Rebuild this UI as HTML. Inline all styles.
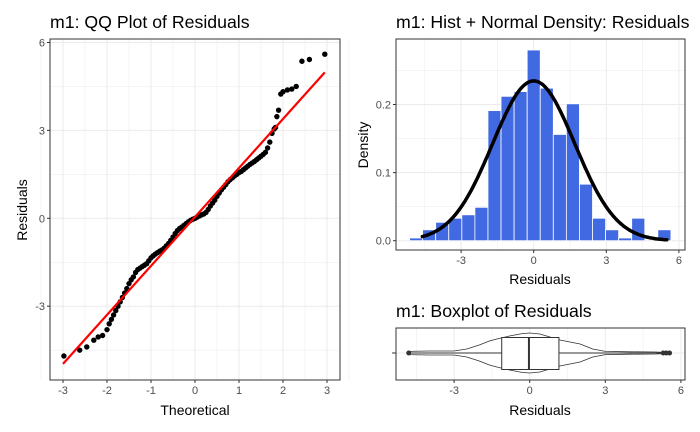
<!DOCTYPE html>
<html><head><meta charset="utf-8">
<style>
html,body{margin:0;padding:0;background:#fff;}
svg{display:block;font-family:"Liberation Sans",Arial,sans-serif;}
.tick{font-size:11px;fill:#4d4d4d;}
.atitle{font-size:14px;fill:#000;}
.ptitle{font-size:17.7px;fill:#000;}
.grid{stroke:#ebebeb;stroke-width:1;}
.gridm{stroke:#ebebeb;stroke-width:0.5;}
</style></head>
<body>
<svg id="chart" width="700" height="432" viewBox="0 0 700 432">
<g id="qq"></g>
<g id="hist"></g>
<g id="box"></g>
</svg>
<script>
// ---------- QQ data ----------
const qqTheoretical = [-2.98,-2.62,-2.46,-2.3,-2.2,-2.1,-2.0,-1.95,-1.9,-1.85,-1.8,-1.75,-1.7,-1.65,-1.6,-1.55,-1.5,-1.45,-1.4,-1.35,-1.3,-1.25,-1.2,-1.15,-1.1,-1.05,-1.0,-0.95,-0.9,-0.85,-0.8,-0.75,-0.7,-0.65,-0.6,-0.55,-0.5,-0.45,-0.4,-0.35,-0.3,-0.25,-0.2,-0.15,-0.1,-0.05,0,0.05,0.1,0.15,0.2,0.25,0.3,0.35,0.4,0.45,0.5,0.55,0.6,0.65,0.7,0.75,0.8,0.85,0.9,0.95,1.0,1.05,1.1,1.15,1.2,1.25,1.3,1.35,1.4,1.45,1.5,1.55,1.6,1.65,1.7,1.75,1.8,1.83,1.86,1.9,1.95,2.0,2.1,2.2,2.3,2.43,2.6,2.95];
const qqSample = [-4.7,-4.5,-4.39,-4.16,-4.05,-4.0,-3.8,-3.6,-3.45,-3.3,-3.15,-3.0,-2.85,-2.7,-2.55,-2.4,-2.23,-2.1,-2.0,-1.85,-1.75,-1.7,-1.65,-1.6,-1.55,-1.45,-1.35,-1.28,-1.22,-1.17,-1.12,-1.08,-1.02,-0.94,-0.86,-0.75,-0.64,-0.52,-0.42,-0.35,-0.3,-0.24,-0.18,-0.12,-0.07,-0.03,0.0,0.04,0.08,0.12,0.15,0.2,0.3,0.42,0.52,0.62,0.75,0.86,0.97,1.06,1.15,1.25,1.32,1.38,1.45,1.5,1.56,1.6,1.66,1.72,1.78,1.84,1.89,1.94,2.0,2.06,2.12,2.18,2.25,2.4,2.6,2.9,3.05,3.1,3.47,3.69,4.24,4.32,4.38,4.41,4.5,5.36,5.42,5.6];
const qqLine = [[-3,-4.97],[2.95,4.98]];
const qqXTicks = [-3,-2,-1,0,1,2,3];
const qqYTicks = [-3,0,3,6];
// ---------- Histogram data ----------
const histCenters = [-4.86,-4.32,-3.78,-3.24,-2.7,-2.16,-1.62,-1.08,-0.54,0,0.54,1.08,1.62,2.16,2.7,3.24,3.78,4.32,4.86,5.4];
const histDensity = [0.004,0.016,0.027,0.033,0.038,0.049,0.191,0.212,0.219,0.280,0.224,0.156,0.201,0.083,0.033,0.016,0.004,0.033,0,0.016];
const histBinWidth = 0.54;
const normMean = 0.0, normSd = 1.7, curveMin = -4.6, curveMax = 5.5;
const histXTicks = [-3,0,3,6];
const histYTicks = [0,0.1,0.2];
// ---------- Boxplot data ----------
const boxStats = {q1:-1.11, median:-0.03, q3:1.16, lowWhisker:-4.7, highWhisker:5.2};
const boxOutliers = [-4.8,5.3,5.42,5.55];
const violinX = [-4.8,-4,-3,-2.5,-2,-1.6,-1.3,-0.8,-0.3,0,0.4,0.8,1.2,1.6,2,2.5,3,4,5,5.55];
const violinHalf = [0.08,0.1,0.1,0.2,0.4,0.6,0.7,0.85,0.97,1.0,0.95,0.8,0.65,0.55,0.45,0.2,0.08,0.06,0.05,0.02];
const boxXTicks = [-3,0,3,6];

const NS="http://www.w3.org/2000/svg";
function mk(parent,tag,attrs,text){const e=document.createElementNS(NS,tag);for(const k in attrs)e.setAttribute(k,attrs[k]);if(text!==undefined)e.textContent=text;parent.appendChild(e);return e;}

// ===== QQ =====
(function(){
const g=document.getElementById('qq');
const L=50,R=340,T=39,B=380;
const sx=v=>195+v*44, sy=v=>218.3-v*29.3;
for(let v=-3.5;v<=3.5;v+=1){const e=mk(g,'line',{x1:sx(v),x2:sx(v),y1:T,y2:B,class:'gridm'});}
for(let v=-4.5;v<=6;v+=3){const e=mk(g,'line',{x1:L,x2:R,y1:sy(v),y2:sy(v),class:'gridm'});}
qqXTicks.forEach(v=>{const e=mk(g,'line',{x1:sx(v),x2:sx(v),y1:T,y2:B,class:'grid'});
 const t=mk(g,'text',{x:sx(v),y:B+14,'text-anchor':'middle',class:'tick'},String(v));
 mk(g,'line',{x1:sx(v),x2:sx(v),y1:B,y2:B+3,stroke:'#333'});});
qqYTicks.forEach(v=>{const e=mk(g,'line',{x1:L,x2:R,y1:sy(v),y2:sy(v),class:'grid'});
 const t=mk(g,'text',{x:L-5,y:sy(v)+4,'text-anchor':'end',class:'tick'},String(v));
 mk(g,'line',{x1:L-3,x2:L,y1:sy(v),y2:sy(v),stroke:'#333'});});
qqTheoretical.forEach((t,i)=>{const c=mk(g,'circle',{cx:sx(t),cy:sy(qqSample[i]),r:2.7,fill:'#000'});});
const ln=mk(g,'line',{x1:sx(qqLine[0][0]),y1:sy(qqLine[0][1]),x2:sx(qqLine[1][0]),y2:sy(qqLine[1][1]),stroke:'#ff0000','stroke-width':2.2});

const fr=mk(g,'rect',{x:L,y:T,width:R-L,height:B-T,fill:'none',stroke:'#333','stroke-width':1});
let t=mk(g,'text',{x:50,y:28,class:'ptitle'},'m1: QQ Plot of Residuals');
t=mk(g,'text',{x:195,y:415,'text-anchor':'middle',class:'atitle'},'Theoretical');
t=mk(g,'text',{x:27,y:210,'text-anchor':'middle',class:'atitle',transform:'rotate(-90 27 210)'},'Residuals');
})();

// ===== Histogram =====
(function(){
const g=document.getElementById('hist');
const L=396,R=685,T=39,B=250;
const sx=v=>533.7+v*24.2, sy=v=>240.7-v*681;
[-4.5,-1.5,1.5,4.5].forEach(v=>{const e=mk(g,'line',{x1:sx(v),x2:sx(v),y1:T,y2:B,class:'gridm'});});
[0.05,0.15,0.25].forEach(v=>{const e=mk(g,'line',{x1:L,x2:R,y1:sy(v),y2:sy(v),class:'gridm'});});
histXTicks.forEach(v=>{const e=mk(g,'line',{x1:sx(v),x2:sx(v),y1:T,y2:B,class:'grid'});
 const t=mk(g,'text',{x:sx(v),y:B+14,'text-anchor':'middle',class:'tick'},String(v));
 mk(g,'line',{x1:sx(v),x2:sx(v),y1:B,y2:B+3,stroke:'#333'});});
histYTicks.forEach(v=>{const e=mk(g,'line',{x1:L,x2:R,y1:sy(v),y2:sy(v),class:'grid'});
 const t=mk(g,'text',{x:L-5,y:sy(v)+4,'text-anchor':'end',class:'tick'},v.toFixed(1));
 mk(g,'line',{x1:L-3,x2:L,y1:sy(v),y2:sy(v),stroke:'#333'});});
histCenters.forEach((c,i)=>{const d=histDensity[i];if(d<=0)return;
 const r=mk(g,'rect',{x:sx(c-histBinWidth/2),y:sy(d),width:histBinWidth*24.2,height:sy(0)-sy(d),fill:'#4169e1',stroke:'#fff','stroke-width':0.8});
 });
let pts=[];for(let i=0;i<=120;i++){const x=curveMin+(curveMax-curveMin)*i/120;const y=Math.exp(-0.5*((x-normMean)/normSd)**2)/(normSd*Math.sqrt(2*Math.PI));pts.push(sx(x).toFixed(1)+','+sy(y).toFixed(1));}
const p=mk(g,'polyline',{points:pts.join(' '),fill:'none',stroke:'#000','stroke-width':3.5,'stroke-linejoin':'round','stroke-linecap':'round'});

const fr=mk(g,'rect',{x:L,y:T,width:R-L,height:B-T,fill:'none',stroke:'#333'});
let t=mk(g,'text',{x:396,y:28,class:'ptitle'},'m1: Hist + Normal Density: Residuals');
t=mk(g,'text',{x:540,y:284,'text-anchor':'middle',class:'atitle'},'Residuals');
t=mk(g,'text',{x:368,y:145,'text-anchor':'middle',class:'atitle',transform:'rotate(-90 368 145)'},'Density');
})();

// ===== Boxplot =====
(function(){
const g=document.getElementById('box');
const L=396,R=685,T=328,B=380,cy=353;
const sx=v=>529.7+v*25.2;
[-4.5,-1.5,1.5,4.5].forEach(v=>{const e=mk(g,'line',{x1:sx(v),x2:sx(v),y1:T,y2:B,class:'gridm'});});
boxXTicks.forEach(v=>{const e=mk(g,'line',{x1:sx(v),x2:sx(v),y1:T,y2:B,class:'grid'});
 const t=mk(g,'text',{x:sx(v),y:B+14,'text-anchor':'middle',class:'tick'},String(v));
 mk(g,'line',{x1:sx(v),x2:sx(v),y1:B,y2:B+3,stroke:'#333'});});
let gl=mk(g,'line',{x1:L,x2:R,y1:cy,y2:cy,class:'grid'});
mk(g,'line',{x1:L-4,x2:L,y1:cy,y2:cy,stroke:'#333'});
const hw=20;
let top=violinX.map((x,i)=>sx(x).toFixed(1)+','+(cy-violinHalf[i]*hw).toFixed(1));
let bot=violinX.map((x,i)=>sx(x).toFixed(1)+','+(cy+violinHalf[i]*hw).toFixed(1)).reverse();
const vp=mk(g,'polygon',{points:top.concat(bot).join(' '),fill:'#fff',stroke:'#333','stroke-width':0.8});

const w1=mk(g,'line',{x1:sx(boxStats.lowWhisker),x2:sx(boxStats.q1),y1:cy,y2:cy,stroke:'#333'});
const w2=mk(g,'line',{x1:sx(boxStats.q3),x2:sx(boxStats.highWhisker),y1:cy,y2:cy,stroke:'#333'});
const bx=mk(g,'rect',{x:sx(boxStats.q1),y:cy-15.5,width:sx(boxStats.q3)-sx(boxStats.q1),height:32,fill:'#fff',stroke:'#333'});
const md=mk(g,'line',{x1:sx(boxStats.median),x2:sx(boxStats.median),y1:cy-15.5,y2:cy+16.5,stroke:'#333','stroke-width':2});
boxOutliers.forEach(o=>{const c=mk(g,'circle',{cx:sx(o),cy:cy,r:2.5,fill:'#333'});});
const fr=mk(g,'rect',{x:L,y:T,width:R-L,height:B-T,fill:'none',stroke:'#333'});
let t=mk(g,'text',{x:396,y:317,class:'ptitle'},'m1: Boxplot of Residuals');
t=mk(g,'text',{x:540,y:415,'text-anchor':'middle',class:'atitle'},'Residuals');
})();
</script>
</body></html>
